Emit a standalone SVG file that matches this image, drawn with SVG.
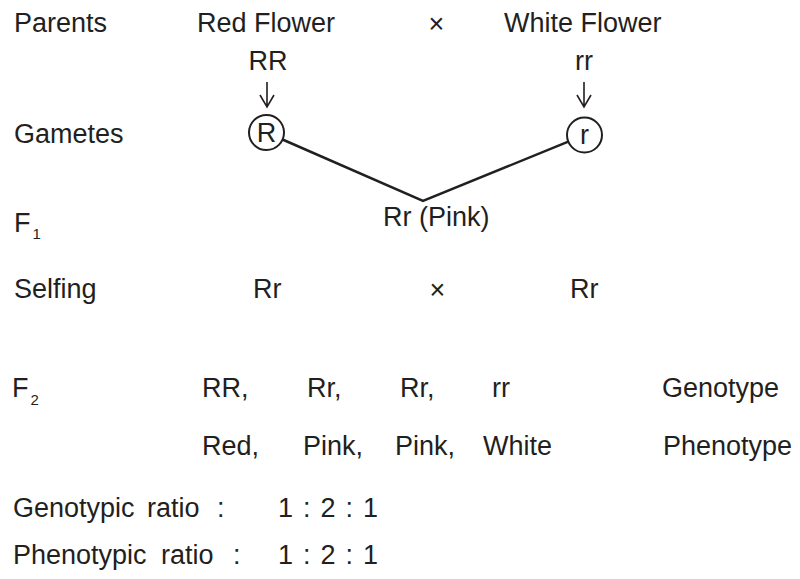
<svg xmlns="http://www.w3.org/2000/svg" width="800" height="579" viewBox="0 0 800 579">
<style>
text{font-family:"Liberation Sans",Arial,sans-serif;font-size:27px;fill:#231f20}
.sub{font-size:15px}
.c{text-anchor:middle}
.ratio{word-spacing:2.5px}
.ln{fill:none;stroke:#231f20;stroke-width:2.5}
.ar{fill:none;stroke:#231f20;stroke-width:1.6}
.ci{fill:none;stroke:#231f20;stroke-width:2}
</style>
<rect width="800" height="579" fill="#fff"/>
<g id="labels">
<text x="14" y="32">Parents</text>
<text x="14" y="143">Gametes</text>
<text x="14" y="232">F<tspan class="sub" dx="2" dy="7">1</tspan></text>
<text x="14" y="298">Selfing</text>
<text x="12" y="397">F<tspan class="sub" dx="2" dy="8">2</tspan></text>
<text x="13" y="517" word-spacing="5">Genotypic ratio</text>
<text x="217" y="517">:</text>
<text x="13" y="564" word-spacing="7">Phenotypic ratio</text>
<text x="233" y="564">:</text>
</g>
<g id="parents">
<text x="197" y="32">Red Flower</text>
<text class="c" x="436.5" y="33">×</text>
<text x="504" y="32">White Flower</text>
<text class="c" x="268" y="70">RR</text>
<text class="c" x="584" y="70">rr</text>
</g>
<g id="gamete-R">
<circle class="ci" cx="266.5" cy="132.5" r="17.5"/>
<text class="c" x="266.5" y="142">R</text>
</g>
<g id="gamete-r">
<circle class="ci" cx="584.5" cy="135" r="17.5"/>
<text class="c" x="584.5" y="144">r</text>
</g>
<g id="f1">
<text x="383" y="226">Rr (Pink)</text>
</g>
<g id="selfing">
<text x="253" y="298">Rr</text>
<text class="c" x="437.5" y="299">×</text>
<text x="570" y="298">Rr</text>
</g>
<g id="f2">
<text x="202" y="397">RR,</text>
<text x="307" y="397">Rr,</text>
<text x="400" y="397">Rr,</text>
<text x="492" y="397">rr</text>
<text x="662" y="397">Genotype</text>
<text x="202" y="455">Red,</text>
<text x="303" y="455">Pink,</text>
<text x="395" y="455">Pink,</text>
<text x="483" y="455">White</text>
<text x="663" y="455">Phenotype</text>
</g>
<g id="ratios">
<text class="ratio" x="278" y="517">1 : 2 : 1</text>
<text class="ratio" x="278" y="564">1 : 2 : 1</text>
</g>
<g id="connectors">
<path class="ar" d="M267 82V106M260 95L267 107L274 95"/>
<path class="ar" d="M584 82V106M577 95L584 107L591 95"/>
<path class="ln" d="M282.5 139.5L423 201L568.3 141.6"/>
</g>
</svg>
